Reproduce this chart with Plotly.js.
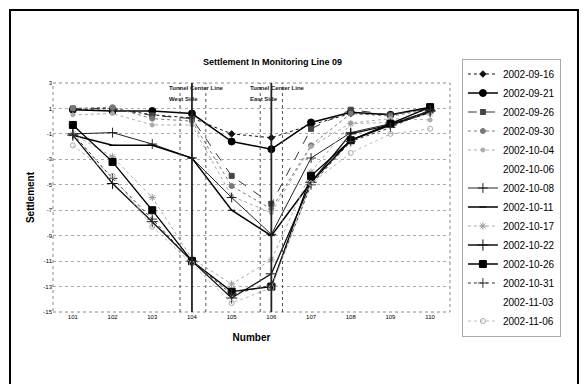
<!DOCTYPE html>
<html><head><meta charset="utf-8">
<script src="https://cdn.plot.ly/plotly-3.0.1.min.js"></script>
<style>html,body{margin:0;padding:0;background:#fff;}#chart{width:586px;height:384px;}</style>
</head><body><div id="chart"></div>
<script>
const categories = [101,102,103,104,105,106,107,108,109,110];
const seriesNames = ["2002-09-16","2002-09-21","2002-09-26","2002-09-30","2002-10-04","2002-10-06","2002-10-08","2002-10-11","2002-10-17","2002-10-22","2002-10-26","2002-10-31","2002-11-03","2002-11-06"];
const s0916 = [0.9, 1.0, 0.5, 0.25, -1.0, -1.3, -0.3, 0.6, 0.5, 1.0];
const s0921 = [0.9, 0.8, 0.8, 0.6, -1.6, -2.2, -0.1, 0.7, 0.5, 1.1];
const s0926 = [1.0, 1.0, 0.45, 0.2, -4.3, -6.5, -0.6, 0.9, 0.5, 1.0];
const s0930 = [1.0, 1.1, 0.2, 0.0, -5.1, -6.9, -1.9, 0.6, 0.4, 0.9];
const s1004 = [0.5, 0.6, -0.3, -0.3, -5.9, -7.2, -2.0, -0.15, 0.2, 0.1];
const s1006 = [0.5, 0.6, -0.3, -0.3, -5.9, -7.2, -2.0, -0.15, 0.2, 0.1];
const s1008 = [-1.0, -0.9, -1.8, -2.9, -6.0, -8.9, -2.9, -0.9, -0.2, 0.8];
const s1011 = [-1.1, -1.9, -1.9, -2.9, -7.0, -9.0, -4.8, -1.5, -0.3, 0.7];
const s1017 = [-1.0, -2.8, -6.0, -10.8, -12.8, -10.9, -4.0, -0.2, -0.1, 0.6];
const s1022 = [-1.1, -4.9, -7.9, -11.0, -13.9, -12.0, -4.8, -1.0, -0.3, 0.8];
const s1026 = [-0.3, -3.2, -7.0, -11.0, -13.4, -13.0, -4.3, -1.5, -0.2, 1.1];
const s1031 = [-1.0, -4.5, -7.7, -11.0, -13.6, -12.9, -5.0, -1.6, -0.5, 0.9];
const s1103 = [-1.0, -4.5, -7.7, -11.0, -13.6, -12.9, -5.0, -1.6, -0.5, 0.9];
const s1106 = [-1.9, -4.3, -8.3, -11.2, -14.3, -13.1, -4.9, -2.5, -1.0, -0.6];
const yTicks = [3,1,-1,-3,-5,-7,-9,-11,-13,-15];
const tunnelWest = 104, tunnelEast = 106;
const tunnelWestEdges = [103.7, 104.35], tunnelEastEdges = [105.72, 106.28];

const values = [s0916,s0921,s0926,s0930,s1004,s1006,s1008,s1011,s1017,s1022,s1026,s1031,s1103,s1106];
const styles = [
  {lc:'#111', lw:1, dash:'dot', sym:'diamond', ms:5, mc:'#111'},
  {lc:'#000', lw:1.5, dash:'solid', sym:'circle', ms:7, mc:'#000'},
  {lc:'#333', lw:1, dash:'dash', sym:'square', ms:5, mc:'#444'},
  {lc:'#777', lw:1, dash:'dot', sym:'circle', ms:5, mc:'#777'},
  {lc:'#aaa', lw:1, dash:'dot', sym:'circle', ms:4, mc:'#aaa'},
  {lc:'rgba(0,0,0,0)', lw:1, dash:'solid', sym:'circle', ms:1, mc:'rgba(0,0,0,0)'},
  {lc:'#222', lw:1, dash:'solid', sym:'cross-thin-open', ms:7, mc:'#222'},
  {lc:'#000', lw:1.5, dash:'solid', sym:'line-ew-open', ms:5, mc:'#000'},
  {lc:'#aaa', lw:1, dash:'dot', sym:'asterisk-open', ms:6, mc:'#999'},
  {lc:'#111', lw:1.3, dash:'solid', sym:'cross-thin-open', ms:8, mc:'#111'},
  {lc:'#000', lw:1.3, dash:'solid', sym:'square', ms:7, mc:'#000'},
  {lc:'#333', lw:1, dash:'dot', sym:'cross-thin-open', ms:7, mc:'#333'},
  {lc:'rgba(0,0,0,0)', lw:1, dash:'solid', sym:'circle', ms:1, mc:'rgba(0,0,0,0)'},
  {lc:'#bbb', lw:1, dash:'dot', sym:'circle-open', ms:5, mc:'#aaa'}
];
const traces = values.map((v,i)=>({
  type:'scatter', mode:'lines+markers', name:seriesNames[i], x:categories, y:v,
  line:{color:styles[i].lc, width:styles[i].lw, dash:styles[i].dash},
  marker:{symbol:styles[i].sym, size:styles[i].ms, color:styles[i].mc, line:{color:styles[i].mc, width:1}}
}));

function vline(x, thick){
  return {type:'line', xref:'x', yref:'paper', x0:x, x1:x, y0:0, y1:1,
    line:{color: thick ? '#222' : '#555', width: thick ? 1.8 : 1, dash: thick ? 'solid' : 'dot'}};
}
const shapes = [
  {type:'rect', xref:'paper', yref:'paper', x0:0, x1:1, y0:0, y1:1, line:{color:'#888', width:1, dash:'dot'}},
  vline(tunnelWestEdges[0],false), vline(tunnelWest,true), vline(tunnelWestEdges[1],false),
  vline(tunnelEastEdges[0],false), vline(tunnelEast,true), vline(tunnelEastEdges[1],false),
  {type:'rect', xref:'paper', yref:'paper', x0:-0.1083, x1:1.3224, y0:-0.34, y1:1.3188, line:{color:'#000', width:2}}
];
const annFont = {family:'Liberation Sans, Arial, sans-serif', size:6, color:'#222'};
const annotations = [
  {xref:'x', yref:'y', x:103.38, y:2.6, text:'<b>Tunnel Center Line</b>', showarrow:false, xanchor:'left', font:annFont},
  {xref:'x', yref:'y', x:103.38, y:1.75, text:'<b>West Side</b>', showarrow:false, xanchor:'left', font:annFont},
  {xref:'x', yref:'y', x:105.42, y:2.6, text:'<b>Tunnel Center Line</b>', showarrow:false, xanchor:'left', font:annFont},
  {xref:'x', yref:'y', x:105.42, y:1.75, text:'<b>East Side</b>', showarrow:false, xanchor:'left', font:annFont}
];
const layout = {
  width:586, height:384, paper_bgcolor:'#fff', plot_bgcolor:'#fff',
  margin:{l:53, r:136, t:83, b:72},
  font:{family:'Liberation Sans, Arial, sans-serif', color:'#000'},
  title:{text:'<b>Settlement In Monitoring Line 09</b>', font:{size:9, color:'#000'}, x:0.465, xanchor:'center', y:0.84, yanchor:'middle'},
  xaxis:{range:[100.5,110.5], tickvals:categories, ticktext:categories.map(String), tickfont:{size:6},
    showgrid:false, zeroline:false, showline:false, ticks:'',
    title:{text:'<b>Number</b>', font:{size:10}, standoff:14}},
  yaxis:{range:[-15,3], tickvals:yTicks, ticktext:yTicks.map(String), tickfont:{size:6},
    showgrid:true, gridcolor:'#aaa', griddash:'dot', gridwidth:1, zeroline:false, showline:false, ticks:'',
    title:{text:'<b>Settlement</b>', font:{size:10}, standoff:6}},
  showlegend:true,
  legend:{x:1.03, y:0.5, xanchor:'left', yanchor:'middle', bordercolor:'#aaa', borderwidth:1, bgcolor:'#fff',
    font:{size:10, color:'#000'}, itemwidth:30, tracegroupgap:0, maxheight:380},
  shapes:shapes, annotations:annotations
};
Plotly.newPlot('chart', traces, layout, {displayModeBar:false, staticPlot:true});
</script></body></html>
